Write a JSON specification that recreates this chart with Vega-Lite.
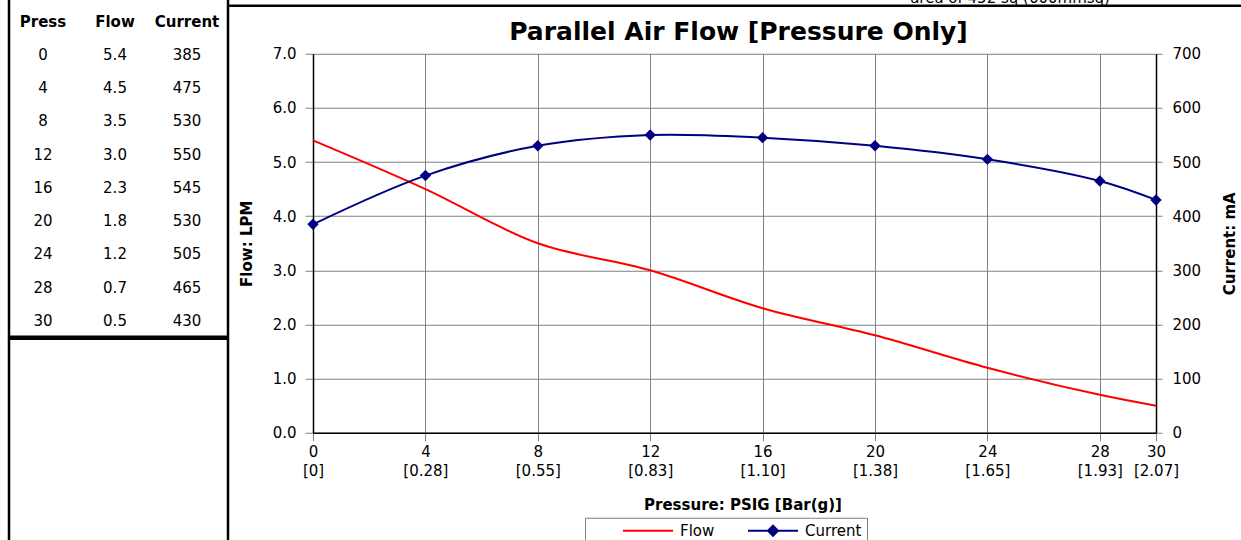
{
  "$schema": "https://vega.github.io/schema/vega-lite/v6.json",
  "padding": {"left": 7, "top": -10.25, "right": 0, "bottom": 0},
  "background": "white",
  "config": {
    "font": "DejaVu Sans",
    "view": {"stroke": null}
  },
  "datasets": {
    "rows": [
      {"Press": 0, "Flow": 5.4, "Current": 385},
      {"Press": 4, "Flow": 4.5, "Current": 475},
      {"Press": 8, "Flow": 3.5, "Current": 530},
      {"Press": 12, "Flow": 3.0, "Current": 550},
      {"Press": 16, "Flow": 2.3, "Current": 545},
      {"Press": 20, "Flow": 1.8, "Current": 530},
      {"Press": 24, "Flow": 1.2, "Current": 505},
      {"Press": 28, "Flow": 0.7, "Current": 465},
      {"Press": 30, "Flow": 0.5, "Current": 430}
    ],
    "columns": [{"Column": "Press"}, {"Column": "Flow"}, {"Column": "Current"}],
    "note": [{"note": "area of 452 sq (600mmsq)"}],
    "frame": [{"part": "top"}]
  },
  "spacing": -3,
  "resolve": {"legend": {"color": "independent"}},
  "hconcat": [
    {
      "spacing": -3,
      "vconcat": [
        {
          "width": 219,
          "height": 345,
          "view": {"stroke": "black", "strokeWidth": 2.5},
          "layer": [
            {
              "data": {"name": "columns"},
              "mark": {"type": "text", "fontSize": 15, "fontWeight": "bold", "baseline": "middle", "color": "black"},
              "encoding": {
                "x": {"field": "Column", "type": "nominal", "scale": {"type": "point", "domain": ["Press", "Flow", "Current"], "range": [34, 178], "padding": 0}, "axis": null},
                "y": {"datum": "hdr", "type": "ordinal", "scale": {"type": "point", "domain": ["hdr", 0, 4, 8, 12, 16, 20, 24, 28, 30], "range": [30, 329], "padding": 0}, "axis": null},
                "text": {"field": "Column"}
              }
            },
            {
              "data": {"name": "rows"},
              "mark": {"type": "text", "fontSize": 15, "baseline": "middle", "color": "black"},
              "encoding": {
                "x": {"datum": "Press", "type": "nominal"},
                "y": {"field": "Press", "type": "ordinal"},
                "text": {"field": "Press", "type": "quantitative", "format": "d"}
              }
            },
            {
              "data": {"name": "rows"},
              "mark": {"type": "text", "fontSize": 15, "baseline": "middle", "color": "black"},
              "encoding": {
                "x": {"datum": "Flow", "type": "nominal"},
                "y": {"field": "Press", "type": "ordinal"},
                "text": {"field": "Flow", "type": "quantitative", "format": ".1f"}
              }
            },
            {
              "data": {"name": "rows"},
              "mark": {"type": "text", "fontSize": 15, "baseline": "middle", "color": "black"},
              "encoding": {
                "x": {"datum": "Current", "type": "nominal"},
                "y": {"field": "Press", "type": "ordinal"},
                "text": {"field": "Current", "type": "quantitative", "format": "d"}
              }
            }
          ]
        },
        {
          "width": 219,
          "height": 210,
          "view": {"stroke": "black", "strokeWidth": 2.5},
          "data": {"values": []},
          "mark": "point",
          "encoding": {}
        }
      ]
    },
    {
      "spacing": 12,
      "vconcat": [
        {
          "width": 843,
          "height": 14,
          "layer": [
            {
              "data": {"name": "frame"},
              "mark": {"type": "rule", "color": "black", "strokeWidth": 2.5},
              "encoding": {
                "x": {"datum": -3.0, "type": "quantitative", "scale": {"domain": [0, 30], "nice": false, "zero": false}, "axis": null},
                "x2": {"datum": 33.2},
                "y": {"datum": 7.905, "type": "quantitative", "scale": {"domain": [7.905, 8.159], "nice": false, "zero": false}, "axis": null}
              }
            },
            {
              "data": {"name": "note"},
              "mark": {"type": "text", "align": "left", "baseline": "alphabetic", "fontSize": 15, "color": "black"},
              "encoding": {
                "x": {"datum": 21.25, "type": "quantitative"},
                "y": {"datum": 7.96, "type": "quantitative"},
                "text": {"field": "note"}
              }
            }
          ]
        },
        {
          "width": 843,
          "height": 379,
          "title": {
            "text": "Parallel Air Flow [Pressure Only]",
            "fontSize": 25,
            "fontWeight": "bold",
            "font": "DejaVu Sans",
            "color": "black",
            "anchor": "middle",
            "frame": "group",
            "offset": -18,
            "baseline": "alphabetic",
            "dx": 4
          },
          "data": {"name": "rows"},
          "resolve": {"scale": {"y": "independent"}},
          "layer": [
            {
              "mark": {"type": "line", "interpolate": "catmull-rom", "strokeWidth": 2},
              "encoding": {
                "x": {
                  "field": "Press",
                  "type": "quantitative",
                  "scale": {"domain": [0, 30], "nice": false, "zero": false},
                  "axis": {
                    "values": [0, 4, 8, 12, 16, 20, 24, 28, 30],
                    "title": "Pressure: PSIG [Bar(g)]",
                    "grid": true,
                    "gridColor": "#808080",
                    "gridOpacity": 1,
                    "gridWidth": 1,
                    "domainColor": "black",
                    "domainWidth": 1.5,
                    "tickColor": "#808080",
                    "tickSize": 8,
                    "labelFont": "DejaVu Sans",
                    "labelFontSize": 15,
                    "labelColor": "black",
                    "labelPadding": 4,
                    "labelLineHeight": 19,
                    "labelFlush": false,
                    "labelOverlap": false,
                    "labelExpr": "[datum.label, datum.value == 0 ? '[0]' : '[' + format(datum.value * 0.0689476, '.2f') + ']']",
                    "titleFont": "DejaVu Sans",
                    "titleFontSize": 15,
                    "titleFontWeight": "bold",
                    "titleColor": "black",
                    "titlePadding": 19,
                    "titleX": 429.5
                  }
                },
                "y": {
                  "field": "Flow",
                  "type": "quantitative",
                  "scale": {"domain": [0, 7], "nice": false},
                  "axis": {
                    "values": [0, 1, 2, 3, 4, 5, 6, 7],
                    "format": ".1f",
                    "title": "Flow: LPM",
                    "grid": true,
                    "gridColor": "#808080",
                    "gridOpacity": 1,
                    "gridWidth": 1,
                    "domainColor": "black",
                    "domainWidth": 1.5,
                    "tickColor": "#808080",
                    "tickSize": 8,
                    "labelFont": "DejaVu Sans",
                    "labelFontSize": 15,
                    "labelColor": "black",
                    "labelPadding": 9,
                    "titleFont": "DejaVu Sans",
                    "titleFontSize": 15,
                    "titleFontWeight": "bold",
                    "titleColor": "black",
                    "titlePadding": 18
                  }
                },
                "color": {
                  "datum": "Flow",
                  "type": "nominal",
                  "scale": {"domain": ["Flow", "Current"], "range": ["#ff0000", "#000080"]},
                  "legend": {
                    "orient": "none",
                    "legendX": 272,
                    "legendY": 526,
                    "direction": "horizontal",
                    "title": null,
                    "padding": 5,
                    "strokeColor": "#808080",
                    "fillColor": "white",
                    "labelFont": "DejaVu Sans",
                    "labelFontSize": 15,
                    "labelColor": "black",
                    "symbolSize": 2500,
                    "symbolStrokeWidth": 2,
                    "clipHeight": 16,
                    "labelOffset": 6,
                    "columnPadding": 0,
                    "symbolOffset": 32,
                    "encode": {
                      "symbols": {
                        "update": {
                          "shape": {"signal": "datum.value === 'Current' ? 'M-1,0H1M0,-0.2L0.2,0L0,0.2L-0.2,0Z' : 'M-1,0H1'"},
                          "fill": {"signal": "datum.value === 'Current' ? '#000080' : 'transparent'"}
                        }
                      }
                    }
                  }
                }
              }
            },
            {
              "mark": {
                "type": "line",
                "interpolate": "catmull-rom",
                "strokeWidth": 2,
                "point": {"shape": "diamond", "size": 130, "filled": true, "color": "#000080"}
              },
              "encoding": {
                "x": {"field": "Press", "type": "quantitative"},
                "y": {
                  "field": "Current",
                  "type": "quantitative",
                  "scale": {"domain": [0, 700], "nice": false},
                  "axis": {
                    "orient": "right",
                    "values": [0, 100, 200, 300, 400, 500, 600, 700],
                    "format": "d",
                    "title": "Current: mA",
                    "grid": false,
                    "domainColor": "black",
                    "domainWidth": 1.5,
                    "tickColor": "#808080",
                    "tickSize": 6,
                    "labelFont": "DejaVu Sans",
                    "labelFontSize": 15,
                    "labelColor": "black",
                    "labelPadding": 10,
                    "titleFont": "DejaVu Sans",
                    "titleFontSize": 15,
                    "titleFontWeight": "bold",
                    "titleColor": "black",
                    "titleAngle": 270,
                    "titleBaseline": "top",
                    "titlePadding": 22
                  }
                },
                "color": {"datum": "Current", "type": "nominal"}
              }
            }
          ]
        }
      ]
    }
  ]
}
